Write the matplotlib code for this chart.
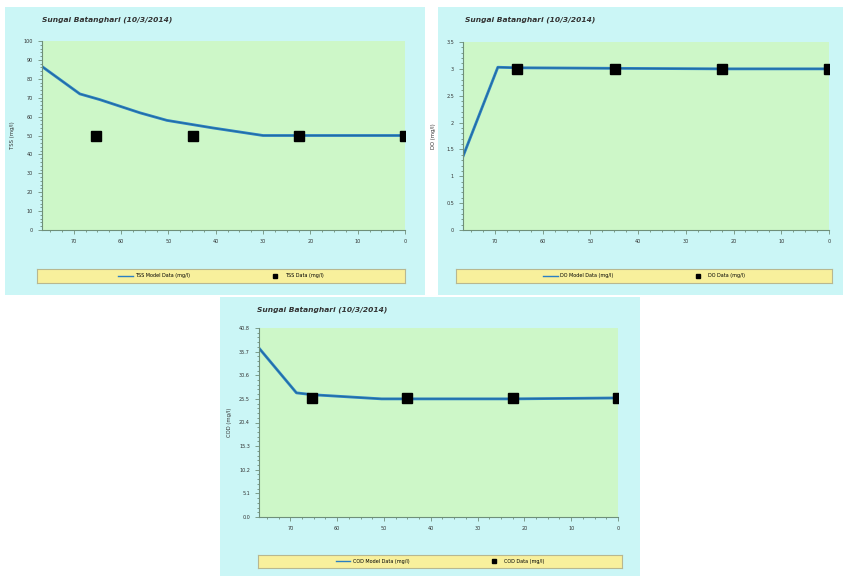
import matplotlib.pyplot as plt
import numpy as np
from matplotlib.patches import Rectangle
from matplotlib.ticker import MultipleLocator, FixedLocator, FormatStrFormatter
from matplotlib.lines import Line2D

# --- data (distance upstream in km) ---
title = "Sungai Batanghari (10/3/2014)"
x_label = "distance upstream (Km)"
x_ticks = [70, 60, 50, 40, 30, 20, 10, 0]

tss_model_km = [76.7, 68.7, 64.5, 56.0, 50.3, 40.6, 30.0, 22.4, 0.0]
tss_model = [86.5, 72.0, 69.0, 62.0, 58.0, 54.0, 50.0, 50.0, 50.0]
tss_obs_km = [65.3, 44.8, 22.4, 0.0]
tss_obs = [50.0, 50.0, 50.0, 50.0]

do_model_km = [76.7, 69.4, 65.4, 44.9, 22.4, 0.0]
do_model = [1.37, 3.03, 3.02, 3.01, 3.0, 3.0]
do_obs_km = [65.4, 44.9, 22.4, 0.0]
do_obs = [3.0, 3.0, 3.0, 3.0]

cod_model_km = [76.9, 68.7, 65.3, 50.5, 22.5, 0.0]
cod_model = [36.7, 26.8, 26.4, 25.5, 25.5, 25.7]
cod_obs_km = [65.3, 45.0, 22.5, 0.0]
cod_obs = [25.7, 25.7, 25.7, 25.7]
cod_ticks = [0.0, 5.1, 10.2, 15.3, 20.4, 25.5, 30.6, 35.7, 40.8]

W, H = 843, 576
BG = "#cbf6f6"
PLOT_BG = "#cdf7c8"
LEG_BG = "#f8f09c"
LINE = "#2a7fc2"

fig = plt.figure(figsize=(W / 100, H / 100), dpi=100)
fig.patch.set_facecolor("white")


def px_rect(x0, y0, x1, y1):
    return [x0 / W, 1 - y1 / H, (x1 - x0) / W, (y1 - y0) / H]


def panel(bg_box, ax_box, leg_box, title_xy, ylabel, km, model, obs_km, obs,
          ylim, yticks, yfmt, labels):
    x0, y0, x1, y1 = bg_box
    fig.patches.append(Rectangle((x0 / W, 1 - y1 / H), (x1 - x0) / W,
                                 (y1 - y0) / H, transform=fig.transFigure,
                                 facecolor=BG, edgecolor="none", zorder=-5))
    ax = fig.add_axes(px_rect(*ax_box))
    ax.set_facecolor(PLOT_BG)
    ax.plot(km, model, color=LINE, linewidth=2.0)
    ax.plot(km, model, color="#1d5a80", linewidth=0.5, alpha=0.7)
    ax.plot(obs_km, obs, linestyle="none", marker="s", markersize=6.5,
            color="black")
    ax.set_xlim(76.7, 0)
    ax.set_ylim(*ylim)
    ax.xaxis.set_major_locator(FixedLocator(x_ticks))
    ax.xaxis.set_minor_locator(MultipleLocator(2.5))
    ax.yaxis.set_major_locator(FixedLocator(yticks))
    ax.yaxis.set_minor_locator(FixedLocator(
        np.linspace(ylim[0], ylim[1], (len(yticks) - 1) * 5 + 1)))
    ax.yaxis.set_major_formatter(yfmt)
    for s in ("top", "right"):
        ax.spines[s].set_visible(False)
    for s in ("left", "bottom"):
        ax.spines[s].set_color("#6f8f7a")
        ax.spines[s].set_linewidth(0.8)
    ax.tick_params(which="both", colors="#6f8f7a", labelsize=3.5,
                   labelcolor="#333333", width=0.6)
    ax.tick_params(which="major", length=3)
    ax.tick_params(which="minor", length=1.5)
    ax.set_xlabel(x_label, fontsize=3.8, color="#333333")
    ax.xaxis.set_label_coords(0.5, -0.22)
    ax.set_ylabel(ylabel, fontsize=3.8, color="#333333")
    ax.yaxis.set_label_coords(-0.075, 0.5)
    fig.text(title_xy[0] / W, 1 - title_xy[1] / H, title, fontsize=5.4,
             fontstyle="italic", fontweight="bold", color="#333333",
             va="center", ha="left")

    lax = fig.add_axes(px_rect(*leg_box))
    lax.set_facecolor(LEG_BG)
    lax.set_xticks([])
    lax.set_yticks([])
    for s in lax.spines.values():
        s.set_color("#b8b890")
        s.set_linewidth(0.8)
    handles = [Line2D([], [], color=LINE, linewidth=1),
               Line2D([], [], linestyle="none", marker="s", markersize=2.5,
                      color="black")]
    lax.legend(handles, labels, loc="center", ncol=2, frameon=False,
               fontsize=3.5, columnspacing=16, handlelength=3,
               handletextpad=0.5)
    return ax


int_fmt = FormatStrFormatter("%g")

panel((5, 7, 425, 295), (42, 41, 405, 230), (37, 269, 405, 283), (42, 20),
      "TSS (mg/l)", tss_model_km, tss_model, tss_obs_km, tss_obs,
      (0, 100), list(range(0, 101, 10)), int_fmt,
      ["TSS Model Data (mg/l)", "TSS Data (mg/l)"])

panel((438, 7, 843, 295), (463, 42, 829, 230), (456, 269, 832, 283),
      (465, 20), "DO (mg/l)", do_model_km, do_model, do_obs_km, do_obs,
      (0, 3.5), list(np.arange(0, 3.51, 0.5)), int_fmt,
      ["DO Model Data (mg/l)", "DO Data (mg/l)"])

panel((220, 297, 640, 576), (259, 328, 618, 517), (258, 555, 622, 568),
      (257, 310), "COD (mg/l)", cod_model_km, cod_model, cod_obs_km, cod_obs,
      (0, 40.8), cod_ticks, FormatStrFormatter("%.1f"),
      ["COD Model Data (mg/l)", "COD Data (mg/l)"])

plt.savefig("out.png", dpi=100)
plt.close()
